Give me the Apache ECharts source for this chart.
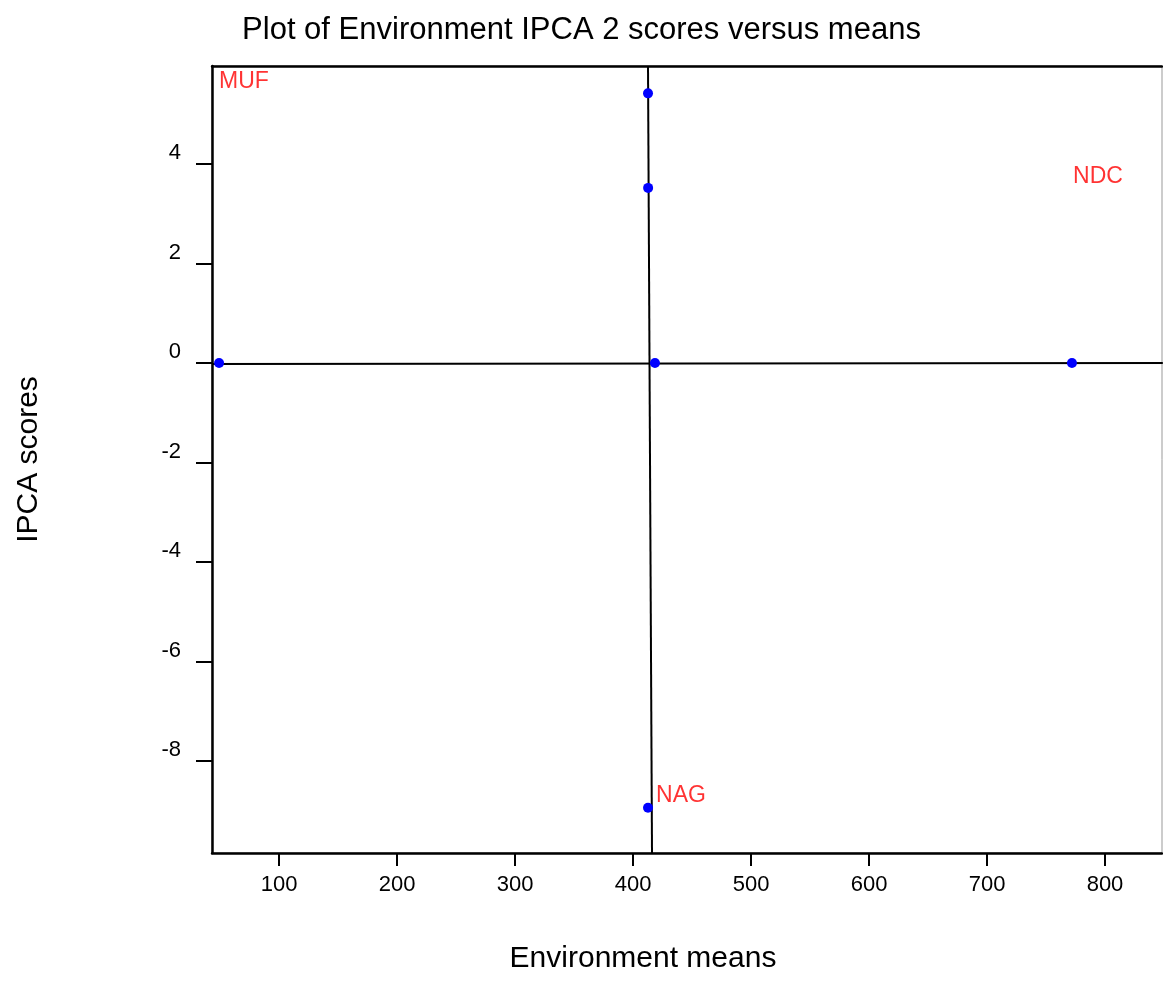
<!DOCTYPE html>
<html>
<head>
<meta charset="utf-8">
<script src="https://cdn.jsdelivr.net/npm/echarts@6/dist/echarts.min.js"></script>
<style>
  html, body { margin: 0; padding: 0; background: #fff; }
  #chart { width: 1163px; height: 981px; }
</style>
</head>
<body>
<div id="chart"></div>
<script>
// environment points: [mean, IPCA 2 score]
const envPoints = [
  [49.2, 0.0],
  [412.7, 5.42],
  [412.8, 3.52],
  [418.6, 0.0],
  [772.0, 0.0],
  [412.7, -8.94]
]

// environment labels (as placed in the plot)
const envNames = ['MUF', 'NDC', 'NAG']
const envLabelPos = [
  [49.2, 5.65],
  [772.9, 3.74],
  [419.5, -8.70]
]

// reference lines (endpoints)
const vLine = [[412.7, 5.97], [416.1, -9.85]]
const hLine = [[43.2, -0.02], [849, 0.0]]

// axes
const xTicks = [100, 200, 300, 400, 500, 600, 700, 800]
const yTicks = [-8, -6, -4, -2, 0, 2, 4]
const xRange = [43.2, 848.3]
const yRange = [-9.85, 5.97]

const chart = echarts.init(document.getElementById('chart'))

const font = 'Liberation Sans, Arial, Helvetica, sans-serif'

const option = {
  backgroundColor: '#fff',
  animation: false,
  title: {
    text: 'Plot of Environment IPCA 2 scores versus means',
    left: 'center',
    top: 10,
    textStyle: { fontFamily: font, fontSize: 31, fontWeight: 'normal', color: '#000' }
  },
  grid: {
    left: 212,
    top: 66,
    right: 1,
    bottom: 128,
    show: true,
    borderColor: '#999',
    borderWidth: 1
  },
  xAxis: [
    {
      type: 'value',
      min: xRange[0],
      max: xRange[1],
      name: 'Environment means',
      nameLocation: 'middle',
      nameGap: 91,
      nameTextStyle: { fontFamily: font, fontSize: 30, color: '#000', padding: [0, 88, 0, 0] },
      axisLine: { show: true, onZero: false, lineStyle: { color: '#000', width: 2.5 } },
      axisTick: { show: true, length: 13, customValues: xTicks, lineStyle: { color: '#000', width: 2 } },
      axisLabel: { customValues: xTicks, margin: 21, fontFamily: font, fontSize: 22, color: '#000' },
      splitLine: { show: false }
    },
    {
      type: 'value',
      position: 'top',
      min: xRange[0],
      max: xRange[1],
      axisLine: { show: true, onZero: false, lineStyle: { color: '#000', width: 2.5 } },
      axisTick: { show: false },
      axisLabel: { show: false },
      splitLine: { show: false }
    }
  ],
  yAxis: {
    type: 'value',
    min: yRange[0],
    max: yRange[1],
    name: 'IPCA scores',
    nameLocation: 'middle',
    nameGap: 168,
    nameTextStyle: { fontFamily: font, fontSize: 30, color: '#000' },
    axisLine: { show: true, onZero: false, lineStyle: { color: '#000', width: 2.5 } },
    axisTick: { show: true, length: 16, customValues: yTicks, lineStyle: { color: '#000', width: 2 } },
    axisLabel: {
      customValues: yTicks,
      margin: 31,
      fontFamily: font,
      fontSize: 22,
      color: '#000',
      verticalAlign: 'bottom',
      lineHeight: 22
    },
    splitLine: { show: false }
  },
  series: [
    {
      type: 'line',
      data: vLine,
      symbol: 'none',
      lineStyle: { color: '#000', width: 2 },
      z: 2
    },
    {
      type: 'line',
      data: hLine,
      symbol: 'none',
      lineStyle: { color: '#000', width: 2 },
      z: 2
    },
    {
      type: 'scatter',
      data: envPoints,
      symbol: 'circle',
      symbolSize: 10,
      itemStyle: { color: '#0000ff', opacity: 1 },
      z: 3
    },
    {
      type: 'scatter',
      data: envLabelPos.map((p, i) => ({ value: p, name: envNames[i] })),
      symbolSize: 0,
      label: {
        show: true,
        position: 'right',
        distance: 0,
        formatter: '{b}',
        fontFamily: font,
        fontSize: 23,
        color: '#ff0000'
      },
      z: 4
    }
  ]
}

chart.setOption(option)
</script>
</body>
</html>
